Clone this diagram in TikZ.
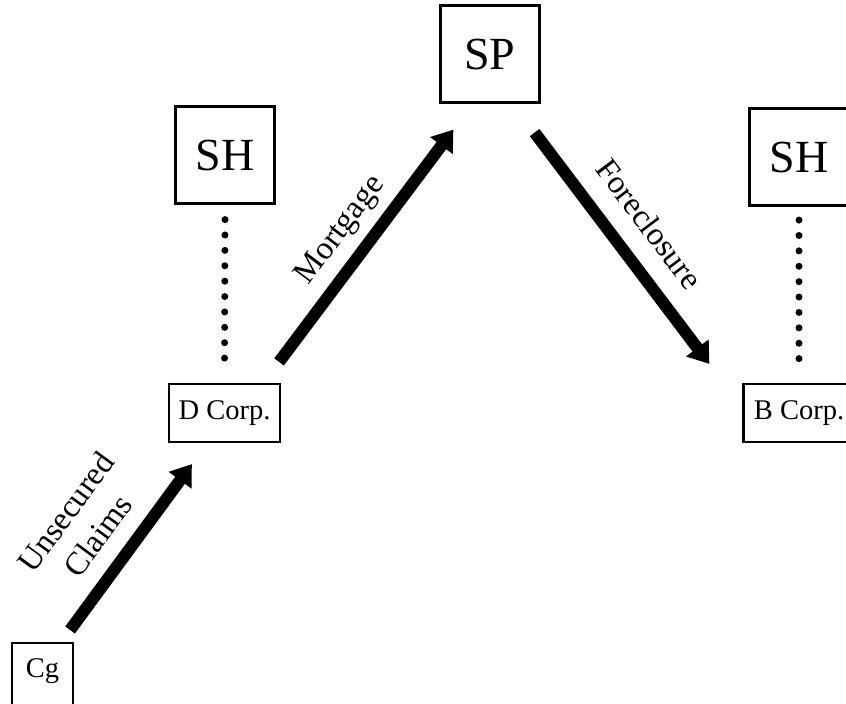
\documentclass[tikz,border=0pt]{standalone}
\usepackage{fontspec}
\setmainfont{Liberation Serif}
\usetikzlibrary{arrows.meta}
\begin{document}
\begin{tikzpicture}[x=1pt,y=-1pt,
  bigbox/.style={draw, line width=2.2pt, inner sep=0pt, font=\fontsize{46}{52}\selectfont, minimum width=99pt, minimum height=97pt},
  smallbox/.style={draw, line width=2.2pt, inner sep=0pt, font=\fontsize{28.5}{34}\selectfont, minimum width=111pt, minimum height=58pt},
  bigarrow/.style={line width=12pt, -{Triangle[length=20pt,width=27pt]}},
  dotline/.style={line width=7pt, line cap=round, dash pattern=on 0pt off 15.39pt},
  lbl/.style={font=\fontsize{32.5}{40}\selectfont, sloped, inner sep=0pt}]
\useasboundingbox (0,0) rectangle (846,704);
\node[bigbox] (SP) at (490,54) {SP};
\node[bigbox] (SHl) at (225,155) {SH};
\node[bigbox] (SHr) at (799,157) {SH};
\node[smallbox] (D) at (224.5,413) {D Corp.};
\node[smallbox] (B) at (799,413) {B Corp.};
\node[draw, line width=2.2pt, anchor=north, minimum width=61pt, inner xsep=0pt, inner ysep=15pt, text height=19pt, text depth=45pt, font=\fontsize{28.5}{34}\selectfont] (Cg) at (42.5,642) {Cg};
\draw[dotline] ([yshift=-15pt]SHl.south) -- ([yshift=11pt]D.north);
\draw[dotline] ([yshift=-13.5pt]SHr.south) -- ([yshift=11pt]B.north);
\draw[bigarrow] ([xshift=-2pt,yshift=21pt]D.north east) -- node[lbl, above=9pt, pos=0.49] {Mortgage} ([xshift=14pt,yshift=-26pt]SP.south west);
\draw[bigarrow] ([xshift=-6pt,yshift=-29pt]SP.south east) -- node[lbl, above=19pt, pos=0.49] {Foreclosure} ([xshift=-33pt,yshift=19pt]B.north west);
\draw[bigarrow] ([xshift=-4pt,yshift=12pt]Cg.north east) -- node[lbl, above=16pt, pos=0.45, align=center] {Unsecured\\Claims} ([xshift=24pt,yshift=-21pt]D.south west);
\end{tikzpicture}
\end{document}
